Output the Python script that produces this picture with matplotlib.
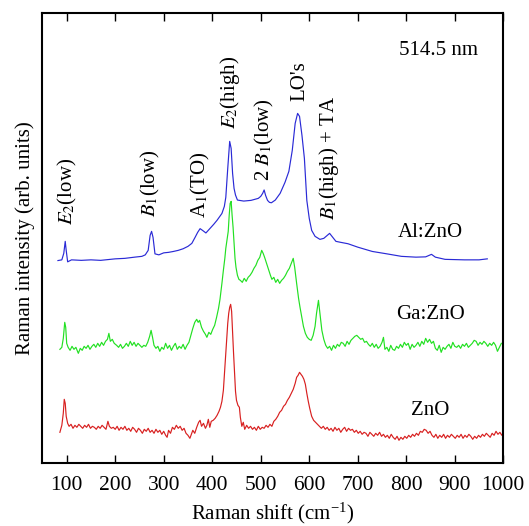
import matplotlib
matplotlib.use("Agg")
import matplotlib.pyplot as plt

plt.rcParams['font.family'] = ['Liberation Serif', 'DejaVu Serif']
plt.rcParams['mathtext.fontset'] = 'stix'

# ---- data (Raman shift in cm^-1, intensity in arbitrary units, offset per sample) ----
al_x = [82, 90, 94, 97, 99, 102, 110, 130, 150, 170, 200, 220, 240, 255, 262, 268, 272, 275, 278, 282,
        290, 300, 310, 320, 330, 340, 350, 358, 365, 370, 375, 380, 387, 395, 403, 410, 420, 425, 428, 432,
        436, 439, 442, 445, 448, 452, 465, 480, 495, 500, 504, 507, 510, 514, 518, 522, 530, 540, 550, 558,
        565, 571, 576, 580, 585, 590, 595, 600, 605, 612, 622, 630, 636, 642, 648, 655, 665, 680, 700, 730,
        760, 790, 820, 840, 852, 860, 880, 920, 950, 967]
al_y = [202.8, 203.5, 210, 222, 213, 201.5, 203.5, 203, 203.5, 203, 204.5, 205, 206.2, 207, 208.5, 213, 228, 232, 226, 209.5,
        208.5, 210.5, 211, 211.9, 213, 214.6, 217, 220, 226.3, 231, 234.7, 233, 230.4, 234.7, 239, 243.1, 249.9, 257, 266, 295,
        322, 315, 290, 275, 268.3, 263.3, 262.3, 263, 265, 267, 270, 273.4, 268, 263, 261, 260.6, 263.3, 270, 281, 292,
        313, 340, 350, 347, 328, 305, 263, 245, 233, 227, 224, 225, 227.5, 230, 226.3, 222, 221, 219.6, 216.2, 211.9,
        209.5, 207, 206.2, 206.5, 209, 206.2, 204, 203.5, 203.5, 204.5]

ga_x = [86, 90, 93, 96, 98, 100, 103, 107, 111, 115, 119, 124, 128, 132, 136, 140, 144, 148, 152, 156,
        160, 164, 168, 172, 176, 180, 184, 187, 190, 194, 198, 203, 207, 211, 215, 219, 223, 227, 231, 235,
        239, 243, 247, 251, 255, 259, 263, 267, 271, 274, 277, 280, 284, 288, 292, 296, 300, 304, 308, 312,
        316, 320, 324, 328, 332, 336, 340, 344, 348, 352, 356, 360, 364, 368, 371, 374, 378, 382, 386, 389,
        393, 397, 401, 405, 409, 413, 416, 420, 423, 426, 428, 431, 433, 435, 437, 439, 441, 443, 445, 447,
        449, 452, 455, 458, 462, 466, 470, 474, 478, 482, 486, 490, 494, 498, 502, 505, 508, 512, 516, 520,
        523, 527, 531, 535, 539, 543, 547, 551, 555, 559, 563, 567, 570, 574, 578, 581, 585, 588, 592, 596,
        600, 604, 608, 612, 615, 619, 622, 626, 630, 634, 638, 642, 646, 650, 654, 658, 662, 666, 670, 674,
        678, 682, 686, 690, 694, 698, 702, 706, 710, 714, 718, 722, 726, 730, 734, 738, 742, 746, 750, 753,
        756, 760, 764, 768, 772, 776, 780, 784, 788, 792, 796, 800, 804, 808, 812, 816, 820, 824, 828, 832,
        836, 840, 844, 848, 852, 856, 860, 864, 868, 872, 876, 880, 884, 888, 892, 896, 900, 904, 908, 912,
        916, 920, 924, 928, 932, 936, 940, 944, 948, 952, 956, 960, 964, 968, 972, 976, 980, 984, 988, 992, 996]
ga_y = [114, 116, 125, 141, 136, 120, 116, 113, 117, 114, 116, 110, 115, 113, 117, 115, 118, 114, 117, 119,
        116, 120, 117, 121, 118, 122, 124, 130, 122, 124, 120, 118, 116, 119, 115, 117, 120, 117, 122, 118,
        121, 117, 120, 118, 116, 118, 117, 121, 127, 133, 126, 118, 115, 117, 112, 116, 114, 120, 115, 118,
        113, 117, 120, 114, 117, 115, 119, 114, 118, 121, 128, 135, 141, 144, 141, 143, 136, 132, 129, 126,
        131, 129, 134, 138, 146, 155, 164, 180, 193, 205, 215, 225, 232, 248, 260, 262, 248, 236, 220, 205,
        196, 188, 184, 183, 181, 185, 182, 186, 188, 191, 195, 198, 203, 206, 213, 210, 206, 200, 194, 188,
        184, 186, 181, 184, 180, 183, 185, 188, 192, 195, 200, 205, 196, 180, 165, 156, 145, 137, 130, 126,
        124, 123, 128, 137, 150, 163, 150, 133, 124, 118, 115, 117, 113, 118, 115, 119, 117, 121, 120, 117,
        122, 119, 123, 125, 127, 128, 126, 124, 125, 121, 122, 119, 117, 120, 116, 119, 115, 117, 121, 126,
        114, 116, 112, 118, 114, 113, 117, 115, 119, 116, 121, 118, 120, 114, 119, 116, 118, 121, 117, 122,
        119, 125, 121, 124, 120, 122, 115, 113, 118, 111, 116, 114, 117, 119, 115, 121, 117, 116, 118, 115,
        119, 117, 120, 116, 118, 120, 123, 122, 118, 121, 119, 122, 120, 117, 120, 118, 121, 118, 112, 116, 120]

zn_x = [86, 90, 93, 95, 97, 99, 102, 105, 109, 113, 117, 121, 125, 129, 133, 137, 141, 145, 149, 153,
        157, 161, 165, 169, 173, 177, 181, 185, 188, 192, 196, 200, 204, 208, 212, 216, 220, 224, 228, 232,
        236, 240, 244, 248, 252, 256, 260, 264, 268, 272, 276, 280, 284, 288, 292, 296, 300, 304, 307, 310,
        314, 318, 322, 326, 330, 334, 338, 342, 346, 350, 354, 357, 360, 364, 368, 372, 375, 378, 382, 386,
        389, 392, 395, 398, 402, 406, 410, 414, 417, 420, 423, 426, 428, 430, 432, 434, 436, 438, 440, 442,
        444, 446, 448, 450, 453, 456, 458, 461, 464, 467, 471, 475, 479, 483, 487, 491, 495, 499, 503, 507,
        511, 515, 519, 523, 527, 531, 535, 539, 543, 547, 551, 555, 559, 563, 567, 571, 574, 577, 580, 583,
        586, 589, 592, 595, 598, 601, 605, 609, 613, 617, 621, 625, 629, 633, 637, 641, 645, 649, 653, 657,
        661, 665, 669, 673, 677, 681, 685, 689, 693, 697, 701, 705, 709, 713, 717, 721, 725, 729, 733, 737,
        741, 745, 749, 753, 757, 761, 765, 769, 773, 777, 781, 785, 789, 793, 797, 801, 805, 809, 813, 817,
        821, 825, 829, 833, 837, 841, 845, 849, 853, 857, 861, 865, 869, 873, 877, 881, 885, 889, 893, 897,
        901, 905, 909, 913, 917, 921, 925, 929, 933, 937, 941, 945, 949, 953, 957, 961, 965, 969, 973, 977,
        981, 985, 989, 993, 997, 1000]
zn_y = [31, 38, 50, 64, 60, 47, 40, 37, 39, 35, 38, 36, 39, 37, 35, 38, 36, 39, 35, 37,
        36, 34, 37, 35, 38, 36, 34, 42, 37, 35, 36, 34, 37, 33, 36, 34, 37, 33, 35, 32,
        36, 34, 31, 35, 33, 30, 34, 32, 35, 31, 33, 30, 34, 31, 33, 29, 32, 28, 26, 33,
        30, 36, 34, 38, 35, 37, 33, 35, 30, 28, 25, 29, 33, 30, 36, 41, 43, 37, 40, 35,
        38, 44, 36, 42, 43, 45, 48, 52, 56, 62, 73, 95, 110, 126, 140, 150, 156, 159, 152, 130,
        110, 90, 72, 63, 58, 56, 46, 37, 41, 34, 38, 35, 37, 34, 36, 33, 37, 34, 36, 35,
        38, 36, 39, 37, 42, 44, 47, 51, 53, 57, 59, 63, 66, 70, 74, 80, 86, 88, 91, 89,
        87, 84, 79, 70, 62, 55, 47, 43, 41, 39, 37, 35, 37, 34, 36, 33, 35, 32, 36, 33,
        35, 31, 34, 36, 32, 35, 33, 34, 31, 33, 30, 32, 29, 31, 30, 27, 31, 29, 27, 30,
        28, 31, 27, 29, 26, 28, 25, 29, 26, 24, 27, 23, 26, 24, 27, 25, 28, 26, 29, 27,
        30, 28, 32, 31, 34, 33, 30, 32, 28, 26, 29, 25, 28, 26, 29, 25, 28, 26, 29, 27,
        25, 28, 26, 29, 25, 28, 26, 29, 27, 24, 27, 25, 28, 26, 29, 27, 30, 28, 26, 30,
        28, 32, 29, 31, 28, 31]

xticks = [100, 200, 300, 400, 500, 600, 700, 800, 900, 1000]

peak_labels = [r'$E_2$(low)', r'$B_1$(low)', r'A$_1$(TO)', r'$E_2$(high)', r'2 $B_1$(low)', "LO's",
               r'$B_1$(high) + TA']
peak_pos = [101, 272, 376, 437, 507, 580, 640]
peak_base = [238, 246, 245, 334, 282, 362, 243]

sample_names = ['Al:ZnO', 'Ga:ZnO', 'ZnO']
sample_name_y = [231, 149, 53]

fig = plt.figure(figsize=(5.29, 5.26), dpi=100)
ax = fig.add_axes([0.0802, 0.1192, 0.8712, 0.8553])

ax.plot(al_x, al_y, color='#2a2ad6', lw=0.85)
ax.plot(ga_x, ga_y, color='#22e022', lw=0.85)
ax.plot(zn_x, zn_y, color='#d82020', lw=0.85)

ax.set_xlim(50, 1000)
ax.set_ylim(0, 450)
ax.set_xticks(xticks)
ax.set_yticks([])
ax.tick_params(axis='x', direction='in', top=True, bottom=True, length=6, width=1.0,
               labelsize=15.5, pad=9)
for s in ax.spines.values():
    s.set_linewidth(1.5)

for lab, px, py in zip(peak_labels, peak_pos, peak_base):
    ax.text(px, py, lab, rotation=90, ha='center', va='bottom', fontsize=15)

for lab, py in zip(sample_names, sample_name_y):
    ax.text(850, py, lab, ha='center', va='center', fontsize=15)

ax.text(867, 413, '514.5 nm', ha='center', va='center', fontsize=15)

ax.set_xlabel(r'Raman shift (cm$^{\mathregular{-1}}$)', fontsize=15, labelpad=4)
ax.set_ylabel('Raman intensity (arb. units)', fontsize=15, labelpad=5)

fig.savefig('out.png', dpi=100)
